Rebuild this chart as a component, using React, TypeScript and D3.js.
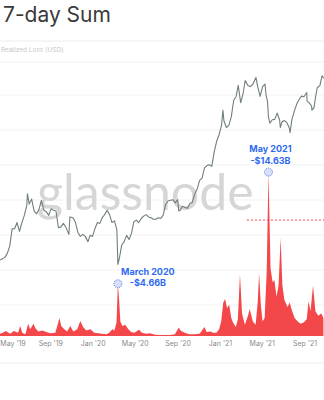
import React from "react";
import * as d3 from "d3";

const priceDates = ["2019-04-08","2019-04-15","2019-04-22","2019-04-29","2019-05-06","2019-05-13","2019-05-20","2019-05-27","2019-06-03","2019-06-10","2019-06-17","2019-06-24","2019-06-26","2019-07-01","2019-07-08","2019-07-15","2019-07-22","2019-07-29","2019-08-05","2019-08-12","2019-08-19","2019-08-26","2019-09-02","2019-09-09","2019-09-16","2019-09-23","2019-09-30","2019-10-07","2019-10-14","2019-10-23","2019-10-26","2019-11-04","2019-11-11","2019-11-18","2019-11-25","2019-12-02","2019-12-09","2019-12-17","2019-12-23","2019-12-30","2020-01-06","2020-01-13","2020-01-20","2020-01-27","2020-02-03","2020-02-10","2020-02-17","2020-02-24","2020-03-02","2020-03-09","2020-03-12","2020-03-16","2020-03-23","2020-03-30","2020-04-06","2020-04-13","2020-04-20","2020-04-27","2020-05-04","2020-05-11","2020-05-18","2020-05-25","2020-06-01","2020-06-08","2020-06-15","2020-06-22","2020-06-29","2020-07-06","2020-07-13","2020-07-20","2020-07-27","2020-08-03","2020-08-10","2020-08-17","2020-08-24","2020-08-31","2020-09-03","2020-09-07","2020-09-14","2020-09-21","2020-09-28","2020-10-05","2020-10-12","2020-10-19","2020-10-26","2020-11-02","2020-11-09","2020-11-16","2020-11-23","2020-11-30","2020-12-07","2020-12-14","2020-12-21","2020-12-28","2021-01-04","2021-01-08","2021-01-11","2021-01-18","2021-01-25","2021-02-01","2021-02-08","2021-02-15","2021-02-21","2021-02-28","2021-03-07","2021-03-13","2021-03-21","2021-03-28","2021-04-04","2021-04-13","2021-04-18","2021-04-25","2021-05-02","2021-05-09","2021-05-12","2021-05-16","2021-05-19","2021-05-23","2021-05-30","2021-06-06","2021-06-13","2021-06-20","2021-06-22","2021-06-27","2021-07-04","2021-07-11","2021-07-18","2021-07-20","2021-07-25","2021-08-01","2021-08-08","2021-08-15","2021-08-22","2021-08-29","2021-09-06","2021-09-07","2021-09-13","2021-09-20","2021-09-21","2021-09-27","2021-10-01","2021-10-06","2021-10-14","2021-10-20","2021-10-25"];
const priceValues = [5200,5300,5400,5700,6300,8000,8000,8700,7700,8700,9600,11000,12900,11200,12000,10200,9800,10400,11800,10300,10100,9600,10500,10300,10200,8100,8200,8600,8200,7400,9400,9300,8700,7600,7200,7400,7200,6700,7300,7200,8000,8700,8600,9300,9700,10300,9700,8700,8900,7900,4900,5300,6400,6700,7300,6900,7500,8800,9000,8700,9200,9500,9700,9400,9300,9100,9100,9300,9200,9600,11100,11700,11800,11900,11400,11900,10200,10300,10900,10700,10600,11300,11500,12900,13800,15500,16000,18400,19000,19200,18800,23000,26500,29000,33000,40500,35000,32000,33000,37000,46500,49000,57000,45000,51000,61000,57000,56000,58000,63500,56000,49000,56000,58000,50000,46000,37000,34000,35600,35800,39000,35500,32000,34700,35200,34200,31800,29800,35400,39900,44000,47000,49200,48800,51700,46000,44900,43000,40600,42000,48000,55000,57000,65000,63000];

const lossDates = ["2019-04-08","2019-04-16","2019-04-25","2019-05-07","2019-05-18","2019-05-30","2019-06-05","2019-06-11","2019-06-20","2019-06-28","2019-07-04","2019-07-13","2019-07-19","2019-07-27","2019-08-08","2019-08-19","2019-08-31","2019-09-14","2019-09-26","2019-10-01","2019-10-10","2019-10-18","2019-10-27","2019-11-05","2019-11-16","2019-11-25","2019-12-03","2019-12-12","2019-12-24","2020-01-04","2020-01-16","2020-01-27","2020-02-08","2020-02-16","2020-02-25","2020-03-02","2020-03-08","2020-03-12","2020-03-16","2020-03-19","2020-03-25","2020-04-02","2020-04-11","2020-04-19","2020-04-28","2020-05-12","2020-05-20","2020-06-01","2020-06-12","2020-06-27","2020-07-11","2020-07-25","2020-08-09","2020-08-23","2020-09-03","2020-09-08","2020-09-20","2020-10-04","2020-10-18","2020-11-02","2020-11-16","2020-11-22","2020-12-03","2020-12-11","2020-12-20","2020-12-28","2021-01-03","2021-01-09","2021-01-14","2021-01-20","2021-01-26","2021-02-01","2021-02-06","2021-02-14","2021-02-20","2021-02-26","2021-03-04","2021-03-12","2021-03-21","2021-03-26","2021-04-04","2021-04-12","2021-04-18","2021-04-22","2021-04-27","2021-05-02","2021-05-08","2021-05-14","2021-05-19","2021-05-25","2021-05-31","2021-06-05","2021-06-11","2021-06-17","2021-06-23","2021-06-28","2021-07-04","2021-07-13","2021-07-19","2021-07-24","2021-08-02","2021-08-11","2021-08-19","2021-08-28","2021-09-06","2021-09-11","2021-09-17","2021-09-24","2021-10-01","2021-10-09","2021-10-18","2021-10-24"];
const lossValues = [0.2,0.3,0.45,0.2,0.45,0.3,0.9,0.3,0.15,1.1,0.6,1.1,0.7,0.4,0.5,0.35,0.25,0.3,1.6,0.9,0.6,0.4,0.9,0.4,0.6,1.35,0.8,0.5,0.6,0.3,0.25,0.2,0.15,0.3,0.6,0.5,1.2,4.66,3.0,1.3,0.9,1.0,0.6,0.35,0.3,0.55,0.3,0.2,0.25,0.12,0.1,0.1,0.1,0.15,0.75,0.5,0.3,0.15,0.15,0.2,0.8,0.35,0.4,0.3,0.3,0.6,1.3,3.0,3.3,2.5,2.8,1.6,1.2,0.8,1.5,5.5,2.0,1.0,1.8,2.4,1.3,1.0,3.0,5.6,2.8,1.3,1.6,5.8,14.63,6.0,4.8,5.0,3.5,4.5,8.75,4.5,3.2,2.6,3.0,2.4,1.6,1.3,1.1,1.2,1.5,3.1,2.2,4.5,2.2,1.8,2.0,1.6];

const xTickDates = ["2019-05-01","2019-09-01","2020-01-01","2020-05-01","2020-09-01","2021-01-01","2021-05-01","2021-09-01"];
const annotations = [
  { date: "2020-03-12", value: 4.66, line1: "March 2020", line2: "-$4.66B" },
  { date: "2021-05-19", value: 14.63, line1: "May 2021", line2: "-$14.63B" },
];
const thresholdValue = 10.35;
const thresholdStart = "2021-03-18";

const parse = d3.utcParse("%Y-%m-%d");

export default function App() {
  const W = 324, H = 400;
  const x = d3.scaleUtc().domain([parse("2019-05-01")!, parse("2021-09-01")!]).range([8, 305]);
  const yPrice = d3.scaleLog().domain([1000, 100000]).range([380.4, 44.4]);
  const yLoss = d3.scaleLinear().domain([0, 30]).range([336, 0]);

  const price = priceDates.map((d, i) => ({ d: parse(d)!, v: priceValues[i] }));
  const loss = lossDates.map((d, i) => ({ d: parse(d)!, v: lossValues[i] }));

  const line = d3.line<{ d: Date; v: number }>().x(p => x(p.d)).y(p => yPrice(p.v));
  const area = d3.area<{ d: Date; v: number }>().x(p => x(p.d)).y0(yLoss(0)).y1(p => yLoss(p.v));
  const fmt = d3.utcFormat("%b '%y");
  const grid = [62, 95, 130, 165, 200, 235, 270, 305];
  const blue = "#2f6bf0";

  return (
    <svg width={W} height={H} style={{ position: "fixed", left: 0, top: 0, background: "#fff" }}
      fontFamily="Inter, Roboto, sans-serif">
      <text x={3} y={22} fontSize={21} fill="#3a3a3a">7-day Sum</text>
      <line x1={0} x2={W} y1={41} y2={41} stroke="#ececec" />
      <text x={1} y={52} fontSize={6.5} fill="#c8c8c8">Realized Loss (USD)</text>
      {grid.map(g => <line key={g} x1={0} x2={W} y1={g} y2={g} stroke="#f2f2f2" />)}
      <text x={37} y={210} fontSize={50} fontFamily="Lato, sans-serif" fill="#d6d6d6">glassnode</text>
      <path d={area(loss)!} fill="#f4474a" />
      <line x1={x(parse(thresholdStart)!)} x2={W} y1={yLoss(thresholdValue)} y2={yLoss(thresholdValue)}
        stroke="#f4474a" strokeDasharray="2,2" strokeWidth={1} />
      <path d={line(price)!} fill="none" stroke="#6f7f7b" strokeWidth={1.1} strokeLinejoin="round" />
      {annotations.map(a => {
        const cx = x(parse(a.date)!), cy = yLoss(a.value);
        const isMar = a.value < 10;
        const tx = isMar ? cx + 30 : cx + 2;
        const ty = isMar ? cy - 9 : cy - 20;
        return (
          <g key={a.date}>
            <circle cx={cx} cy={cy} r={4} fill="#c9d2f7" fillOpacity={0.7} stroke={blue} strokeDasharray="1,1" strokeWidth={0.8} />
            <text x={tx} y={ty} fontSize={9} fontWeight={700} fill={blue} textAnchor="middle">{a.line1}</text>
            <text x={tx} y={ty + 11.5} fontSize={9} fontWeight={700} fill={blue} textAnchor="middle">{a.line2}</text>
          </g>
        );
      })}
      {xTickDates.map((t, i) => (
        <text key={t} x={Math.max(x(parse(t)!), i === 0 ? 13 : 0)} y={346} fontSize={7} fill="#8a8a8a" textAnchor="middle">{fmt(parse(t)!)}</text>
      ))}
      <line x1={0} x2={W} y1={363} y2={363} stroke="#f0f0f0" />
    </svg>
  );
}
